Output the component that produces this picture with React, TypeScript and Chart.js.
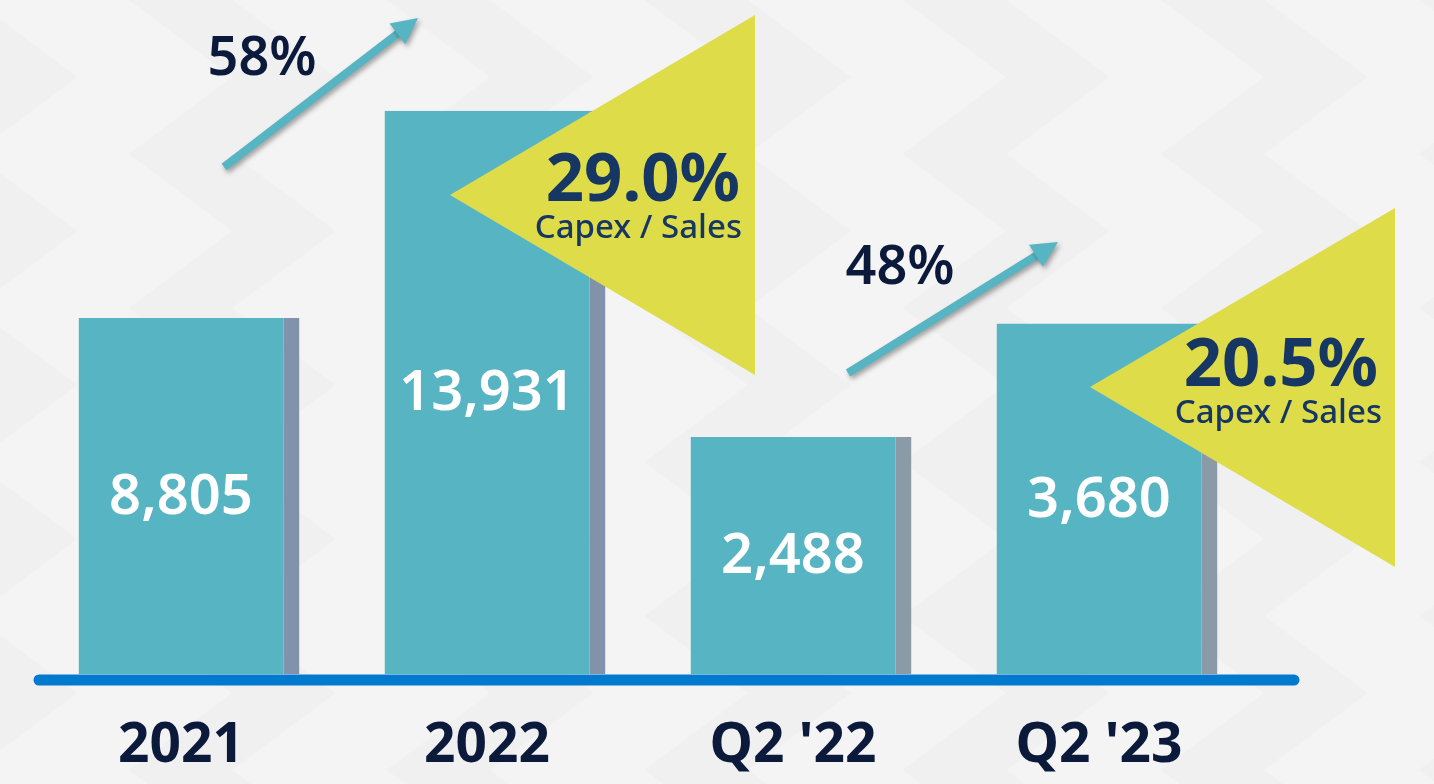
import React, { useEffect, useRef } from "react";
import { Chart, registerables } from "chart.js";

Chart.register(...registerables);

// ---- data ----
const categories = ["2021", "2022", "Q2 '22", "Q2 '23"];
const annualValues = [8805, 13931, null, null];
const quarterlyValues = [null, null, 2488, 3680];
const valueLabels = ["8,805", "13,931", "2,488", "3,680"];
const growthLabels = ["58%", "48%"];
const capexRatios = ["29.0%", "20.5%"];
const capexCaption = "Capex / Sales";

const TEAL = "#57B5C3";
const NAVY = "#0B1A3B";
const NAVY2 = "#163763";
const YELLOW = "#DFDC4A";
const FONT = "'Noto Sans', 'Open Sans', sans-serif";

function drawBackground(ctx: CanvasRenderingContext2D, w: number, h: number) {
  ctx.save();
  ctx.fillStyle = "#F4F4F4";
  ctx.fillRect(0, 0, w, h);
  ctx.fillStyle = "#F0F0F0";
  const cw = 129;
  const ph = 154;
  for (let k = 0; -26 + k * cw < w; k++) {
    const x0 = -26 + k * cw;
    const off = (k % 2) * (ph / 2);
    for (let y = -ph + off; y < h + ph; y += ph) {
      ctx.beginPath();
      if (k % 2 === 0) {
        ctx.moveTo(x0, y);
        ctx.lineTo(x0 + cw * 0.8, y + ph / 2);
        ctx.lineTo(x0, y + ph);
      } else {
        ctx.moveTo(x0 + cw, y);
        ctx.lineTo(x0 + cw * 0.2, y + ph / 2);
        ctx.lineTo(x0 + cw, y + ph);
      }
      ctx.closePath();
      ctx.fill();
    }
  }
  ctx.restore();
}

function drawArrow(ctx: CanvasRenderingContext2D, x1: number, y1: number, x2: number, y2: number) {
  const ang = Math.atan2(y2 - y1, x2 - x1);
  const headLen = 26;
  const headHalf = 13;
  const bx = x2 - Math.cos(ang) * headLen;
  const by = y2 - Math.sin(ang) * headLen;
  ctx.save();
  ctx.shadowColor = "rgba(0,0,0,0.35)";
  ctx.shadowBlur = 5;
  ctx.shadowOffsetX = 2;
  ctx.shadowOffsetY = 3;
  ctx.strokeStyle = TEAL;
  ctx.fillStyle = TEAL;
  ctx.lineWidth = 8;
  ctx.beginPath();
  ctx.moveTo(x1, y1);
  ctx.lineTo(bx + Math.cos(ang) * 4, by + Math.sin(ang) * 4);
  ctx.stroke();
  ctx.beginPath();
  ctx.moveTo(x2, y2);
  ctx.lineTo(bx + Math.cos(ang + Math.PI / 2) * headHalf, by + Math.sin(ang + Math.PI / 2) * headHalf);
  ctx.lineTo(bx - Math.cos(ang + Math.PI / 2) * headHalf, by - Math.sin(ang + Math.PI / 2) * headHalf);
  ctx.closePath();
  ctx.fill();
  ctx.restore();
}

function drawCallout(
  ctx: CanvasRenderingContext2D,
  tipX: number,
  tipY: number,
  rightX: number,
  topY: number,
  botY: number,
  ratio: string,
  ratioRight: number,
  ratioBase: number,
  capRight: number,
  capBase: number
) {
  ctx.save();
  ctx.fillStyle = YELLOW;
  ctx.beginPath();
  ctx.moveTo(tipX, tipY);
  ctx.lineTo(rightX, topY);
  ctx.lineTo(rightX, botY);
  ctx.closePath();
  ctx.fill();
  ctx.fillStyle = NAVY2;
  ctx.textAlign = "right";
  ctx.textBaseline = "alphabetic";
  ctx.font = `700 67px ${FONT}`;
  ctx.fillText(ratio, ratioRight, ratioBase);
  ctx.font = `500 33px ${FONT}`;
  ctx.fillText(capexCaption, capRight, capBase);
  ctx.restore();
}

const overlayPlugin = {
  id: "overlay",
  beforeDraw(chart: any) {
    drawBackground(chart.ctx, chart.width, chart.height);
  },
  afterDatasetsDraw(chart: any) {
    const ctx: CanvasRenderingContext2D = chart.ctx;
    const area = chart.chartArea;
    const xScale = chart.scales.x;

    // baseline
    ctx.save();
    ctx.strokeStyle = "#0079CF";
    ctx.lineWidth = 11;
    ctx.lineCap = "round";
    ctx.beginPath();
    ctx.moveTo(area.left + 3, area.bottom + 6);
    ctx.lineTo(area.right + 34, area.bottom + 6);
    ctx.stroke();
    ctx.restore();

    // value labels inside bars
    ctx.save();
    ctx.fillStyle = "#FFFFFF";
    ctx.textAlign = "center";
    ctx.textBaseline = "middle";
    ctx.font = `600 56px ${FONT}`;
    chart.data.datasets.forEach((ds: any, di: number) => {
      const meta = chart.getDatasetMeta(di);
      meta.data.forEach((el: any, i: number) => {
        if (ds.data[i] == null) return;
        const cx = el.x - 8;
        const cy = (el.y + el.base) / 2;
        ctx.fillText(valueLabels[i], cx, cy + 2);
      });
    });
    ctx.restore();

    // category labels
    ctx.save();
    ctx.fillStyle = NAVY;
    ctx.textAlign = "center";
    ctx.textBaseline = "alphabetic";
    ctx.font = `700 55px ${FONT}`;
    categories.forEach((c, i) => {
      ctx.fillText(c, xScale.getPixelForValue(i) - 8, area.bottom + 88);
    });
    ctx.restore();

    // growth arrows
    drawArrow(ctx, 224, 167, 418, 18);
    drawArrow(ctx, 848, 373, 1058, 242);
    ctx.save();
    ctx.fillStyle = NAVY;
    ctx.textAlign = "center";
    ctx.textBaseline = "alphabetic";
    ctx.font = `600 54px ${FONT}`;
    ctx.fillText(growthLabels[0], 262, 75);
    ctx.fillText(growthLabels[1], 900, 284);
    ctx.restore();

    // capex callouts
    drawCallout(ctx, 450, 195, 755, 15, 375, capexRatios[0], 740, 201, 742, 238);
    drawCallout(ctx, 1090, 387, 1395, 208, 567, capexRatios[1], 1378, 386, 1382, 423);
  },
};

export default function App() {
  const canvasRef = useRef<HTMLCanvasElement | null>(null);

  useEffect(() => {
    if (!canvasRef.current) return;
    const chart = new Chart(canvasRef.current, {
      type: "bar",
      data: {
        labels: categories,
        datasets: [
          {
            label: "Annual capex",
            data: annualValues,
            yAxisID: "y",
            backgroundColor: TEAL,
            borderColor: "#8193AA",
            borderWidth: { top: 0, left: 0, bottom: 0, right: 16 },
            borderSkipped: false,
            grouped: false,
            barPercentage: 0.722,
            categoryPercentage: 1,
          },
          {
            label: "Quarterly capex",
            data: quarterlyValues,
            yAxisID: "y2",
            backgroundColor: TEAL,
            borderColor: "#8A9BA7",
            borderWidth: { top: 0, left: 0, bottom: 0, right: 16 },
            borderSkipped: false,
            grouped: false,
            barPercentage: 0.722,
            categoryPercentage: 1,
          },
        ] as any,
      },
      options: {
        animation: false,
        responsive: true,
        maintainAspectRatio: false,
        layout: { padding: { left: 36, right: 174, top: 0, bottom: 110 } },
        plugins: {
          legend: { display: false },
          tooltip: { enabled: false },
        },
        scales: {
          x: { display: false, grid: { display: false } },
          y: { display: false, min: 0, max: 16670 },
          y2: { display: false, min: 0, max: 7076 },
        },
      },
      plugins: [overlayPlugin],
    });
    return () => chart.destroy();
  }, []);

  return (
    <div style={{ position: "absolute", left: 0, top: 0, width: 1434, height: 784 }}>
      <canvas ref={canvasRef} />
    </div>
  );
}
